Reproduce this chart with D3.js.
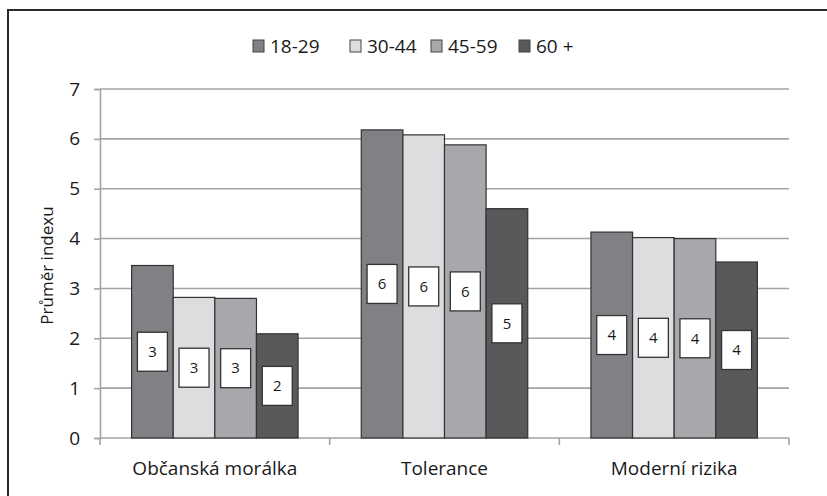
<!DOCTYPE html>
<html><head><meta charset="utf-8">
<script src="https://cdn.jsdelivr.net/npm/d3@7"></script>
<style>body{margin:0;background:#fff}svg{display:block}text{font-family:"Open Sans",sans-serif;fill:#1a1a1a}</style>
</head><body><svg id="c" width="827" height="496"></svg>
<script>
const categories = ["Občanská morálka", "Tolerance", "Moderní rizika"];
const series = ["18-29", "30-44", "45-59", "60 +"];
const v1829 = [3.46, 6.18, 4.13];
const v3044 = [2.82, 6.08, 4.02];
const v4559 = [2.80, 5.88, 4.00];
const v60 = [2.09, 4.60, 3.53];
const yTicks = [0, 1, 2, 3, 4, 5, 6, 7];
const yTitle = "Průměr indexu";
const colors = ["#808184", "#dcdddf", "#a7a8ab", "#58595b"];

const values = [v1829, v3044, v4559, v60];
const svg = d3.select("#c");

// outer frame (clipped by view)
svg.append("rect").attr("x", 8).attr("y", 10).attr("width", 900).attr("height", 600)
  .attr("fill", "none").attr("stroke", "#2a2a2a").attr("stroke-width", 2);

const L = 100, R = 789, T = 89, B = 438;
const y = d3.scaleLinear().domain([0, 7]).range([B, T]);
const x = d3.scaleBand().domain(categories).range([L, R]).padding(0);
const bw = x.bandwidth();
const gap = bw * 0.1376;
const xs = d3.scaleBand().domain(series).range([gap, bw - gap]).padding(0);

// gridlines
svg.append("g").selectAll("line").data(yTicks.filter(d => d > 0)).join("line")
  .attr("x1", L).attr("x2", R).attr("y1", d => y(d)).attr("y2", d => y(d))
  .attr("stroke", "#a3a3a3").attr("stroke-width", 1.6);

// y axis
const ya = svg.append("g").attr("transform", `translate(${L},0)`)
  .call(d3.axisLeft(y).tickValues(yTicks).tickFormat(d3.format("d")).tickSize(6).tickPadding(14));
ya.select(".domain").attr("stroke", "#a3a3a3").attr("stroke-width", 1.6);
ya.selectAll(".tick line").attr("stroke", "#a3a3a3").attr("stroke-width", 1.6);
ya.selectAll(".tick text").attr("font-size", 19).attr("font-family", "Open Sans").attr("fill", "#1a1a1a");

// x axis baseline and boundary ticks
svg.append("line").attr("x1", L).attr("x2", R).attr("y1", B).attr("y2", B)
  .attr("stroke", "#a3a3a3").attr("stroke-width", 1.6);
const bounds = categories.map(c => x(c)).concat([x(categories[categories.length - 1]) + bw]);
svg.append("g").selectAll("line").data(bounds).join("line")
  .attr("x1", d => d).attr("x2", d => d).attr("y1", B).attr("y2", B + 7)
  .attr("stroke", "#a3a3a3").attr("stroke-width", 1.6);
svg.append("g").selectAll("text").data(categories).join("text")
  .attr("x", d => x(d) + bw / 2).attr("y", 475).attr("text-anchor", "middle")
  .attr("font-size", 19).text(d => d);

// y title
svg.append("text").attr("transform", `translate(53,${(T + B) / 2 + 2}) rotate(-90)`)
  .attr("text-anchor", "middle").attr("font-size", 17).text(yTitle);

// bars
const data = [];
categories.forEach((c, i) => series.forEach((s, j) => data.push({c, s, j, v: values[j][i]})));
const bars = svg.append("g");
bars.selectAll("rect").data(data).join("rect")
  .attr("x", d => x(d.c) + xs(d.s)).attr("width", xs.bandwidth())
  .attr("y", d => y(d.v)).attr("height", d => y(0) - y(d.v))
  .attr("fill", d => colors[d.j]).attr("stroke", "#333").attr("stroke-width", 1.2);

// labels
const fmt = d3.format(".0f");
const lg = svg.append("g").selectAll("g").data(data).join("g")
  .attr("transform", d => `translate(${x(d.c) + xs(d.s) + xs.bandwidth() / 2},${(y(d.v) + y(0)) / 2})`);
lg.append("rect").attr("x", -15).attr("y", -19.5).attr("width", 30).attr("height", 39)
  .attr("fill", "#fff").attr("stroke", "#333").attr("stroke-width", 1.3);
lg.append("text").attr("text-anchor", "middle").attr("dy", "0.35em").attr("font-size", 15)
  .text(d => fmt(d.v));

// legend
const legX = [253, 350, 431, 519];
const leg = svg.append("g").selectAll("g").data(series).join("g")
  .attr("transform", (d, i) => `translate(${legX[i]},40)`);
leg.append("rect").attr("width", 11).attr("height", 12).attr("fill", (d, i) => colors[i])
  .attr("stroke", "#444").attr("stroke-width", 1);
leg.append("text").attr("x", 17).attr("y", 12.5).attr("font-size", 19).text(d => d);
</script></body></html>
